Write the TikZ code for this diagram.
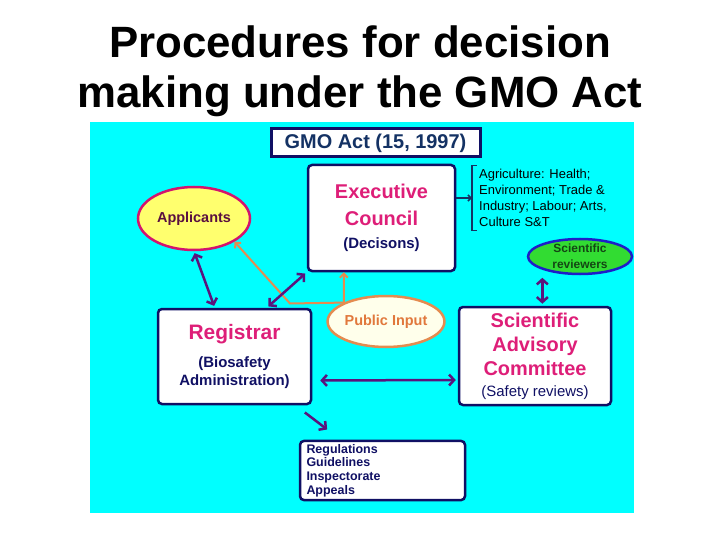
\documentclass[tikz,border=0pt]{standalone}
\usepackage{fontspec}
\setmainfont{Liberation Sans}
\usetikzlibrary{positioning,shapes.geometric,arrows.meta}

\definecolor{navy}{RGB}{16,16,100}
\definecolor{actblue}{RGB}{20,50,100}
\definecolor{mag}{RGB}{222,30,120}
\definecolor{plum}{RGB}{90,20,125}
\definecolor{sky}{RGB}{0,255,255}
\definecolor{lemon}{RGB}{255,255,110}
\definecolor{rose}{RGB}{210,20,110}
\definecolor{leaf}{RGB}{50,220,50}
\definecolor{ink}{RGB}{30,30,200}
\definecolor{peach}{RGB}{228,140,80}
\definecolor{cream}{RGB}{255,255,235}

\begin{document}
\begin{tikzpicture}[x=1bp, y=-1bp,
    box/.style = {draw=navy, line width=2.5bp, rounded corners=4bp, fill=white, align=center},
    oval/.style = {ellipse, line width=2.5bp, inner sep=0pt, align=center},
    link/.style = {draw=plum, line width=2.5bp, shorten <=2bp, shorten >=2bp,
                   {Straight Barb[length=5bp,width=11bp]}-{Straight Barb[length=5bp,width=11bp]}},
    public/.style = {draw=peach, line width=2bp,
                   {Straight Barb[length=4bp,width=8bp]}-{Straight Barb[length=4bp,width=8bp]}},
    title/.style = {anchor=base, font=\bfseries\fontsize{44}{50}\selectfont}]
    \useasboundingbox (0,0) rectangle (720,540);
    \node[title] (t1) at (360,58) {Procedures for decision};
    \node[title] (t2) at (360,108) {making under the GMO Act};
    \fill[sky] (90,122) rectangle (634,513);
    % bodies
    \node[box, line width=3bp, rounded corners=0pt, inner sep=0pt, minimum width=209bp, minimum height=28bp,
          text=actblue, font=\bfseries\fontsize{20}{22}\selectfont] (act) at (375.5,143) {GMO Act (15, 1997)};
    \node[box, minimum width=147bp, minimum height=106bp, text=mag, font=\bfseries\fontsize{20}{27}\selectfont]
          (exec) at (381.5,218) {Executive\\ Council\\[-4bp] {\color{navy}\fontsize{15}{18}\selectfont (Decisons)}};
    \node[box, minimum width=153bp, minimum height=95bp, text=navy, font=\bfseries\fontsize{15}{17.5}\selectfont]
          (reg) at (234.5,356.5) {{\color{mag}\fontsize{21}{24}\selectfont Registrar}\\[10.5bp] (Biosafety\\ Administration)};
    \node[box, minimum width=152bp, minimum height=98bp, text=mag, font=\bfseries\fontsize{20}{24}\selectfont]
          (sac) at (535,356) {Scientific\\ Advisory\\ Committee\\[-3bp] {\color{navy}\mdseries\fontsize{15}{18}\selectfont (Safety reviews)}};
    \node[box, minimum width=165bp, minimum height=59bp, text width=152bp, inner xsep=6bp, align=left,
          text=navy, font=\bfseries\fontsize{12.5}{13.7}\selectfont]
          (regs) at (382.5,470.5) {Regulations\\ Guidelines\\ Inspectorate\\ Appeals};
    % ovals
    \node[oval, draw=rose, fill=lemon, minimum width=112bp, minimum height=63bp,
          text={rgb,255:red,90;green,16;blue,64}, font=\bfseries\fontsize{14.5}{17}\selectfont] (app) at (194,218.5) {Applicants};
    \node[oval, draw=ink, fill=leaf, minimum width=104bp, minimum height=35bp,
          text={rgb,255:red,20;green,70;blue,20}, font=\bfseries\fontsize{12}{16}\selectfont] (rev) at (580,256.5) {Scientific\\ reviewers};
    \node[oval, draw=peach, fill=cream, minimum width=98bp, minimum height=51bp,
          text={rgb,255:red,225;green,120;blue,60}, font=\bfseries\fontsize{14.5}{17}\selectfont] (pub) at (386,321.5) {Public Input};
    \node[anchor=west, align=left, inner xsep=7bp, inner ysep=3bp, font=\fontsize{13}{16.3}\selectfont] (agri) at (472,198)
          {Agriculture: Health;\\ Environment; Trade \&\\ Industry; Labour; Arts,\\ Culture S\&T};
    % links
    \draw[actblue, line width=1.2bp] ([xshift=5bp]agri.north west) -- (agri.north west) -- (agri.south west) -- ([xshift=5bp]agri.south west);
    \draw[actblue, line width=1.5bp, -{Straight Barb[length=3bp,width=6bp]}] (exec.east |- agri.west) -- (agri.west);
    \coordinate (bend) at (290,303.5);
    \draw[public] (app.south east) -- (bend) -- (pub.north west) -- (pub.north west |- exec.south);
    \draw[link] (app.south) -- ([xshift=58bp]reg.north west);
    \draw[link] ([xshift=110bp]reg.north west) -- (exec.south west);
    \draw[link, shorten <=8bp] ([yshift=-24bp]reg.east) -- ([yshift=-24bp]sac.west);
    \draw[link, shorten <=8bp] (rev.south west) -- (rev.south west |- sac.north);
    \draw[link, -{Straight Barb[length=5bp,width=11bp]}] ([xshift=-9bp,yshift=-6bp]reg.south east) -- ([xshift=30bp,yshift=9bp]regs.north west);
\end{tikzpicture}
\end{document}
